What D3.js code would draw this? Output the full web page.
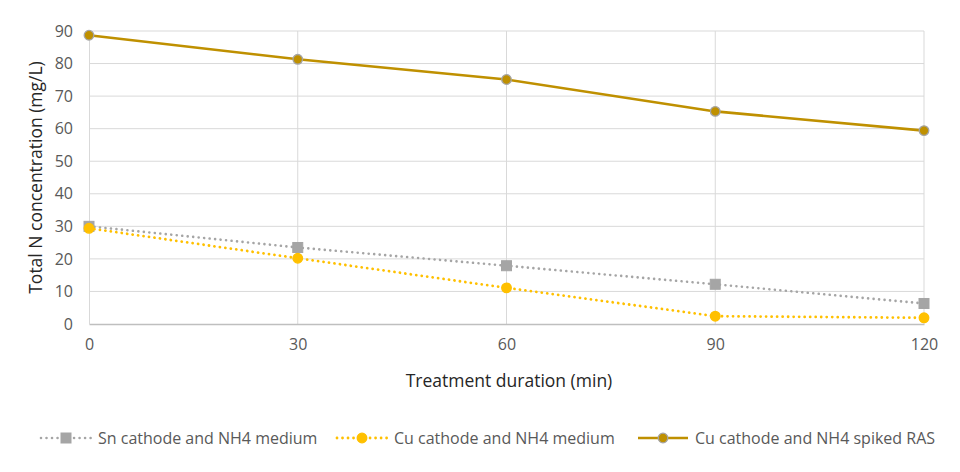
<!DOCTYPE html>
<html>
<head>
<meta charset="utf-8">
<script src="https://cdn.jsdelivr.net/npm/d3@7"></script>
<style>
  body { margin: 0; background: #fff; }
  svg { display: block; font-family: "Open Sans", sans-serif; }
</style>
</head>
<body>
<div id="viewportContainer"></div>
<script>
/* --- データ --- */
const durations = [0, 30, 60, 90, 120];
const snNH4 = [30.0, 23.5, 17.9, 12.2, 6.3];
const cuNH4 = [29.4, 20.2, 11.1, 2.4, 1.9];
const cuRAS = [88.7, 81.3, 75.1, 65.3, 59.4];
const yTicks = [0, 10, 20, 30, 40, 50, 60, 70, 80, 90];
const seriesNames = ["Sn cathode and NH4 medium", "Cu cathode and NH4 medium", "Cu cathode and NH4 spiked RAS"];

/* --- ビューポート --- */
const viewport = {width: 960, height: 472};
const margin = {top: 31, right: 36, bottom: 148, left: 89};

const series = [
  {name: seriesNames[0], values: snNH4, color: "#A5A5A5", dash: "0.01,5.5", width: 2.6, marker: "square", mfill: "#A5A5A5", mstroke: "#A5A5A5"},
  {name: seriesNames[1], values: cuNH4, color: "#FFC000", dash: "0.01,5.5", width: 2.8, marker: "circle", mfill: "#FFC000", mstroke: "#FFC000"},
  {name: seriesNames[2], values: cuRAS, color: "#BF9000", dash: null, width: 2.6, marker: "circle", mfill: "#BF9000", mstroke: "#A5A5A5"}
];

const svg = d3.select("#viewportContainer").append("svg")
  .attr("width", viewport.width)
  .attr("height", viewport.height);

const xScale = d3.scaleLinear().domain([0, 120]).range([margin.left, viewport.width - margin.right]);
const yScale = d3.scaleLinear().domain([0, 90]).range([viewport.height - margin.bottom, margin.top]);

/*--- グリッド ---*/
const grid = svg.append("g");
grid.selectAll(".hgrid").data(yTicks.filter(d => d > 0)).enter().append("line")
  .attr("x1", xScale(0)).attr("x2", xScale(120))
  .attr("y1", d => yScale(d)).attr("y2", d => yScale(d))
  .attr("stroke", "#D9D9D9").attr("stroke-width", 1);
grid.selectAll(".vgrid").data(durations.filter(d => d > 0)).enter().append("line")
  .attr("x1", d => xScale(d)).attr("x2", d => xScale(d))
  .attr("y1", yScale(0)).attr("y2", yScale(90))
  .attr("stroke", "#D9D9D9").attr("stroke-width", 1);

/*--- 軸 ---*/
const xAxis = d3.axisBottom(xScale).tickValues(durations).tickSize(0).tickPadding(15);
const xg = svg.append("g").attr("transform", "translate(0," + yScale(0) + ")").call(xAxis);
xg.select(".domain").attr("stroke", "#BFBFBF").attr("stroke-width", 1.3);

const yAxis = d3.axisLeft(yScale).tickValues(yTicks).tickSize(0).tickPadding(16);
const yg = svg.append("g").attr("transform", "translate(" + xScale(0) + ",0)").call(yAxis);
yg.select(".domain").attr("stroke", "#D9D9D9");

svg.selectAll(".tick text")
  .attr("fill", "#595959")
  .style("font-size", "16px")
  .style("font-family", "'Open Sans', sans-serif");

/*--- 軸タイトル ---*/
svg.append("text")
  .attr("x", 509).attr("y", 387)
  .attr("text-anchor", "middle")
  .attr("fill", "#262626")
  .style("font-size", "17.5px")
  .text("Treatment duration (min)");

svg.append("text")
  .attr("transform", "translate(42," + yScale(45) + ") rotate(-90)")
  .attr("text-anchor", "middle")
  .attr("fill", "#262626")
  .style("font-size", "17.5px")
  .text("Total N concentration (mg/L)");

/*--- 折れ線 ---*/
const line = d3.line().x((d, i) => xScale(durations[i])).y(d => yScale(d));

function drawMarker(g, s, x, y) {
  if (s.marker === "square") {
    g.append("rect").attr("x", x - 5).attr("y", y - 5).attr("width", 10).attr("height", 10)
      .attr("fill", s.mfill).attr("stroke", s.mstroke).attr("stroke-width", 1);
  } else {
    g.append("circle").attr("cx", x).attr("cy", y).attr("r", 4.8)
      .attr("fill", s.mfill).attr("stroke", s.mstroke).attr("stroke-width", 1.3);
  }
}

series.forEach(function(s) {
  const g = svg.append("g");
  g.append("path")
    .attr("d", line(s.values))
    .attr("fill", "none")
    .attr("stroke", s.color)
    .attr("stroke-width", s.width)
    .attr("stroke-dasharray", s.dash)
    .attr("stroke-linecap", s.dash ? "round" : "butt");
  s.values.forEach(function(v, i) {
    drawMarker(g, s, xScale(durations[i]), yScale(v));
  });
});

/*--- 凡例 ---*/
const legendX = [41, 337, 638];
const legendY = 438;
series.forEach(function(s, i) {
  const g = svg.append("g");
  const x0 = legendX[i];
  g.append("line")
    .attr("x1", x0).attr("x2", x0 + 50)
    .attr("y1", legendY).attr("y2", legendY)
    .attr("stroke", s.color)
    .attr("stroke-width", s.width)
    .attr("stroke-dasharray", s.dash)
    .attr("stroke-linecap", s.dash ? "round" : "butt");
  drawMarker(g, s, x0 + 25, legendY);
  g.append("text")
    .attr("x", x0 + 57).attr("y", legendY + 5.5)
    .attr("fill", "#595959")
    .style("font-size", "16px")
    .text(s.name);
});
</script>
</body>
</html>
